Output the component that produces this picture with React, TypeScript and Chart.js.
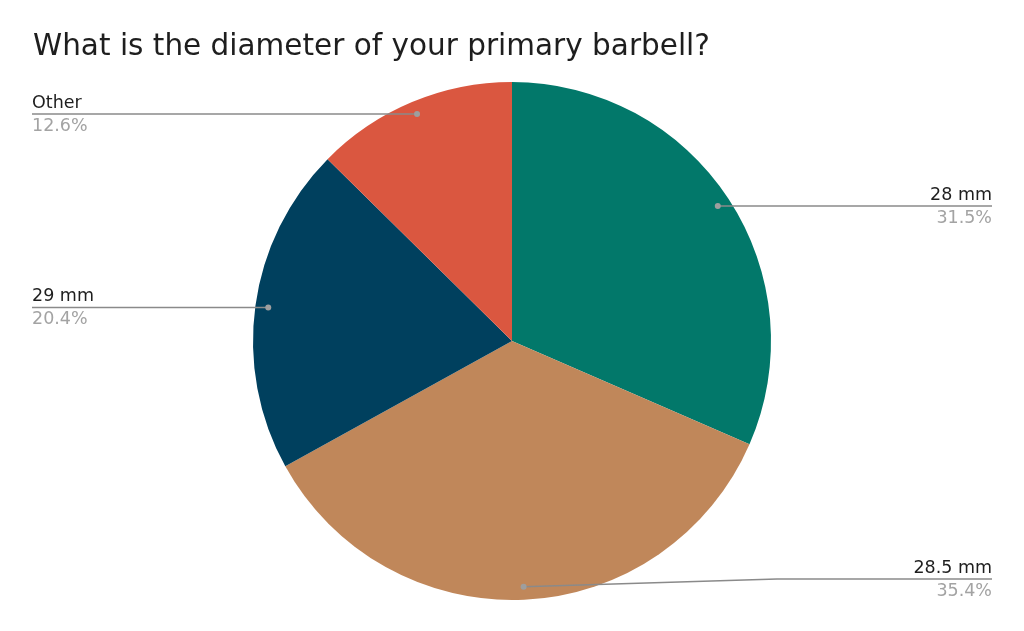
import React, { useEffect, useRef } from "react";
import { Chart, registerables } from "chart.js";

Chart.register(...registerables);

const TITLE = "What is the diameter of your primary barbell?";
const categories = ["28 mm", "28.5 mm", "29 mm", "Other"];
const shares = [31.5, 35.4, 20.4, 12.6];
const colors = ["#02786a", "#c0875a", "#00405e", "#da5740"];

const FONT = "'DejaVu Sans', Verdana, sans-serif";

const calloutPlugin = {
  id: "callouts",
  afterDatasetsDraw(chart: any) {
    const ctx = chart.ctx;
    const meta = chart.getDatasetMeta(0);
    const W = chart.width;
    const area = chart.chartArea;
    ctx.save();
    // title
    ctx.font = `29.5px ${FONT}`;
    ctx.fillStyle = "#1e1e1e";
    ctx.textAlign = "left";
    ctx.textBaseline = "alphabetic";
    ctx.fillText(TITLE, 33, 55);

    meta.data.forEach((arc: any, i: number) => {
      const p = arc.getProps(["x", "y", "startAngle", "endAngle", "outerRadius"], true);
      const mid = (p.startAngle + p.endAngle) / 2;
      const px = p.x + Math.cos(mid) * p.outerRadius * 0.95;
      const py = p.y + Math.sin(mid) * p.outerRadius * 0.95;
      const right = px >= p.x;
      const lineY = Math.min(py, area.bottom - 21);
      const endX = right ? W - 32 : 32;

      ctx.strokeStyle = "#8a8a8a";
      ctx.lineWidth = 1.5;
      ctx.beginPath();
      ctx.moveTo(px, py);
      if (Math.abs(lineY - py) > 0.5) {
        const bendX = right
          ? Math.max(px, p.x + p.outerRadius + 6)
          : Math.min(px, p.x - p.outerRadius - 6);
        ctx.lineTo(bendX, lineY);
      }
      ctx.lineTo(endX, lineY);
      ctx.stroke();

      ctx.fillStyle = "#9e9e9e";
      ctx.beginPath();
      ctx.arc(px, py, 3, 0, Math.PI * 2);
      ctx.fill();

      ctx.font = `17.5px ${FONT}`;
      ctx.textAlign = right ? "right" : "left";
      ctx.fillStyle = "#1e1e1e";
      ctx.fillText(categories[i], endX, lineY - 6);
      ctx.fillStyle = "#a3a3a3";
      ctx.fillText(shares[i].toFixed(1) + "%", endX, lineY + 17);
    });
    ctx.restore();
  },
};

export default function App() {
  const ref = useRef<HTMLCanvasElement | null>(null);
  useEffect(() => {
    if (!ref.current) return;
    const chart = new Chart(ref.current, {
      type: "pie",
      data: {
        labels: categories,
        datasets: [
          {
            data: shares,
            backgroundColor: colors,
            borderWidth: 0,
          },
        ],
      },
      options: {
        animation: false,
        responsive: true,
        maintainAspectRatio: false,
        layout: { padding: { top: 82, bottom: 31, left: 0, right: 0 } },
        plugins: {
          legend: { display: false },
          tooltip: { enabled: false },
          title: { display: false },
        },
      },
      plugins: [calloutPlugin],
    });
    return () => chart.destroy();
  }, []);
  return (
    <div style={{ position: "fixed", left: 0, top: 0, width: 1024, height: 631, background: "#ffffff" }}>
      <canvas ref={ref} />
    </div>
  );
}
